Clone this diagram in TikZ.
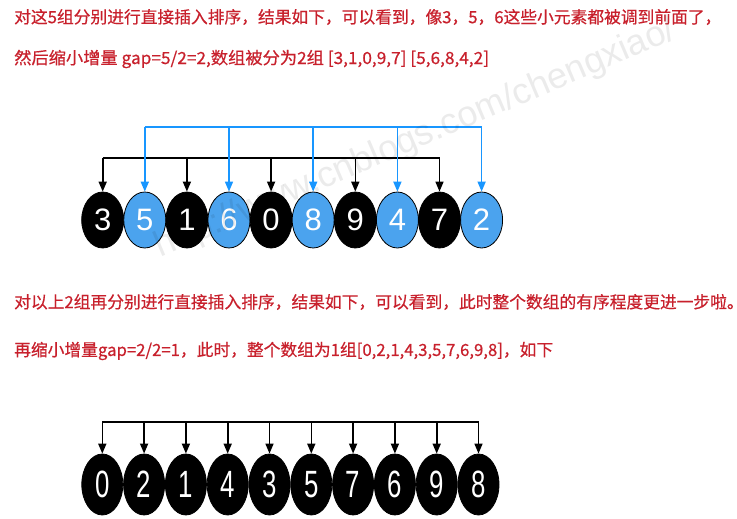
\documentclass[tikz,border=0pt]{standalone}
\usepackage{fontspec}
\usepackage{graphicx}
\newfontfamily\cjk[FakeBold=0.5]{Noto Sans CJK SC}
\newfontfamily\numfont{Liberation Sans}
\usetikzlibrary{arrows.meta,shapes.geometric}
\definecolor{txtred}{RGB}{200,32,44}
\definecolor{arrowblue}{RGB}{24,150,255}
\definecolor{fillblue}{RGB}{75,163,238}
\begin{document}
\begin{tikzpicture}[x=1pt,y=-1pt,
  txt/.style={anchor=west,inner sep=0pt,text=txtred,font=\cjk\fontsize{16.75}{20}\selectfont},
  topball/.style={ellipse,draw=black,line width=0.8pt,minimum width=42pt,minimum height=56pt,inner sep=0pt,text=white,font=\numfont\fontsize{31}{31}\selectfont},
  blk/.style={topball,fill=black},
  blu/.style={topball,fill=fillblue},
  botball/.style={ellipse,draw=black,line width=0.8pt,fill=black,minimum width=41pt,minimum height=61pt,inner sep=0pt,text=white,font=\numfont\fontsize{38}{38}\selectfont},
  karrow/.style={draw=black,line width=1.6pt,-{Triangle[length=10pt,width=8pt]}},
  barrow/.style={draw=arrowblue,line width=1.6pt,-{Triangle[length=10pt,width=8pt]}},
  kline/.style={draw=black,line width=1.6pt},
  bline/.style={draw=arrowblue,line width=1.6pt},
]
\useasboundingbox (0,0) rectangle (737,519);
\fill[white] (0,0) rectangle (737,519);

% text lines
\node[txt] (l1) at (14,17) {对这5组分别进行直接插入排序，结果如下，可以看到，像3，5，6这些小元素都被调到前面了，};
\node[txt] (l2) at (14,59) {\scalebox{1.03}[1]{然后缩小增量 gap=5/2=2,数组被分为2组 [3,1,0,9,7] [5,6,8,4,2]}};
\node[txt] (l3) at (14,302) {对以上2组再分别进行直接插入排序，结果如下，可以看到，此时整个数组的有序程度更进一步啦。};
\node[txt] (l4) at (14,351) {再缩小增量gap=2/2=1，此时，整个数组为1组[0,2,1,4,3,5,7,6,9,8]，如下};

% top row
\foreach \v [count=\i from 0] in {3,5,1,6,0,8,9,4,7,2}{
  \pgfmathtruncatemacro{\odd}{mod(\i,2)}
  \ifnum\odd=0
    \node[blk] (t\i) at ({102.7+42.1*\i},220) {\v};
  \else
    \node[blu] (t\i) at ({102.7+42.1*\i},220) {\v};
  \fi
}
\coordinate (kh) at (0,158);
\coordinate (bh) at (0,127);
\draw[kline] (t0.north |- kh) -- (t8.north |- kh);
\foreach \i in {0,2,4,6,8} \draw[karrow] (t\i.north |- kh) -- (t\i.north);
\draw[bline] (t1.north |- bh) -- (t9.north |- bh);
\foreach \i in {1,3,5,7,9} \draw[barrow] (t\i.north |- bh) -- (t\i.north);

% bottom row
\foreach \v [count=\i from 0] in {0,2,1,4,3,5,7,6,9,8}{
  \node[botball] (b\i) at ({102.3+41.8*\i},484.5) {\scalebox{0.68}[1]{\v}};
}
\coordinate (gh) at (0,421.7);
\draw[kline] (b0.north |- gh) -- (b9.north |- gh);
\foreach \i in {0,...,9} \draw[karrow] (b\i.north |- gh) -- (b\i.north);

% watermark
\node[rotate=23,anchor=base west,inner sep=0pt,text=black,text opacity=0.08,font=\numfont\fontsize{36}{36}\selectfont] (wm) at (160,258) {http://www.cnblogs.com/chengxiao/};
\end{tikzpicture}
\end{document}
